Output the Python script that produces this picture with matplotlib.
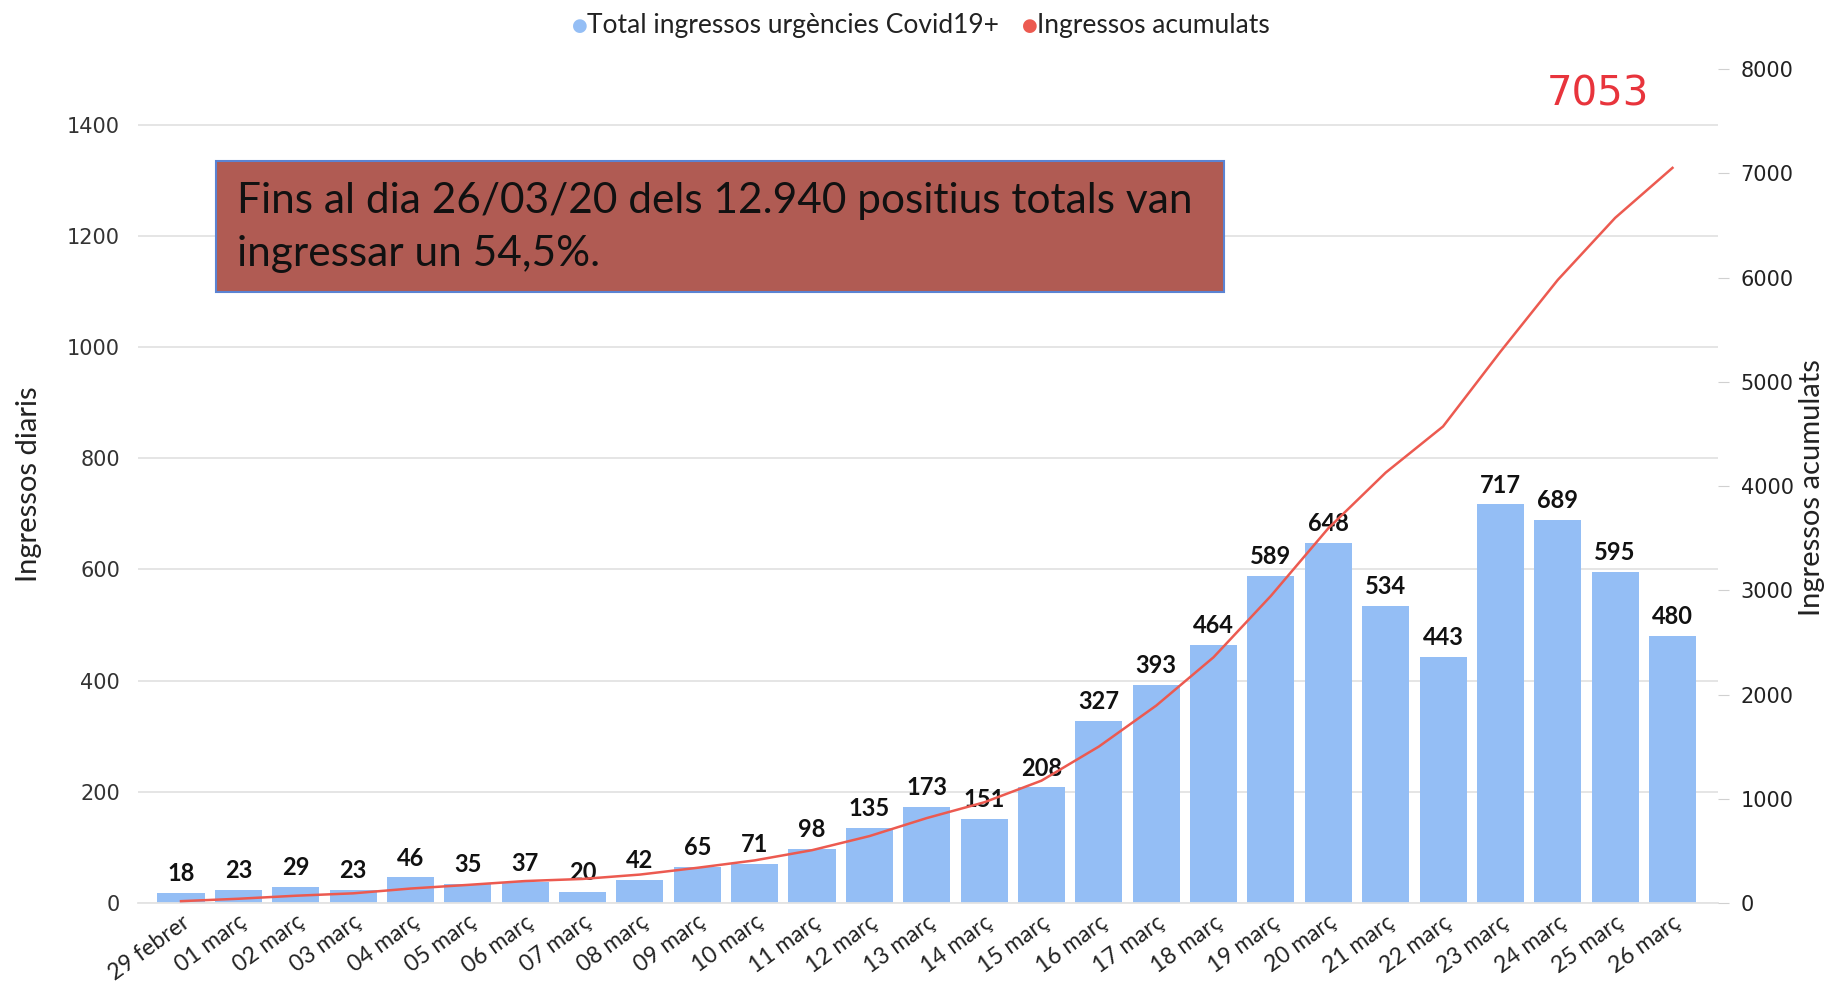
import matplotlib
matplotlib.use('Agg')
import matplotlib.pyplot as plt
from matplotlib.patches import Rectangle

# daily admissions and the running total
dies = ['29 febrer', '01 març', '02 març', '03 març', '04 març', '05 març',
        '06 març', '07 març', '08 març', '09 març', '10 març', '11 març',
        '12 març', '13 març', '14 març', '15 març', '16 març', '17 març',
        '18 març', '19 març', '20 març', '21 març', '22 març', '23 març',
        '24 març', '25 març', '26 març']
ingressos = [18, 23, 29, 23, 46, 35, 37, 20, 42, 65, 71, 98, 135, 173, 151,
             208, 327, 393, 464, 589, 648, 534, 443, 717, 689, 595, 480]
acumulats = [18, 41, 70, 93, 139, 174, 211, 231, 273, 338, 409, 507, 642,
             815, 966, 1174, 1501, 1894, 2358, 2947, 3595, 4129, 4572, 5289,
             5978, 6573, 7053]
ticks_esq = [0, 200, 400, 600, 800, 1000, 1200, 1400]
ticks_dre = [0, 1000, 2000, 3000, 4000, 5000, 6000, 7000, 8000]

plt.rcParams['font.family'] = ['Lato', 'DejaVu Sans']

blau = '#94BEF5'
vermell = '#EC5A50'

fig = plt.figure(figsize=(18.3, 9.88), dpi=100)
ax = fig.add_axes([0.0754, 0.086, 0.8636, 0.844])
ax2 = ax.twinx()

x = list(range(len(dies)))
ax.bar(x, ingressos, width=0.82, color=blau, zorder=2)
for xi, v in zip(x, ingressos):
    ax.text(xi, v + 14, str(v), ha='center', va='bottom', fontsize=17,
            fontweight='bold', color='#111111', zorder=5)

ax2.plot(x, acumulats, color=vermell, lw=1.8, zorder=3)

ax.set_xlim(-0.75, 26.8)
ax.set_ylim(0, 1500)
ax2.set_ylim(0, 8000)
ax.set_yticks(ticks_esq)
ax2.set_yticks(ticks_dre)
ax.yaxis.grid(True, color='#E3E3E3', lw=1.3, zorder=0)
ax.set_axisbelow(True)

for a in (ax, ax2):
    for s in a.spines.values():
        s.set_visible(False)
ax.spines['bottom'].set_visible(True)
ax.spines['bottom'].set_color('#E3E3E3')
ax.spines['bottom'].set_linewidth(1.3)

ax.set_xticks(x)
ax.set_xticklabels(dies, rotation=36, ha='right', va='top',
                   rotation_mode='anchor', fontsize=16.5, color='#222222')
ax.tick_params(axis='x', length=0, pad=6)
ax.tick_params(axis='y', length=0, pad=13, labelsize=15, labelcolor='#333333')
ax2.tick_params(axis='y', length=8, color='#D0D0D0', pad=8, labelsize=15,
                labelcolor='#222222')
for lab in ax.get_yticklabels() + ax2.get_yticklabels():
    lab.set_family(['DejaVu Sans'])

# axis titles
fig.text(0.0158, 0.51, 'Ingressos diaris', fontsize=21, color='#222222',
         rotation=90, ha='center', va='center')
fig.text(0.990, 0.507, 'Ingressos acumulats', fontsize=21, color='#222222',
         rotation=90, ha='center', va='center')

# red total above the curve end
ax2.text(x[-1] - 1.3, acumulats[-1] + 700, str(acumulats[-1]), ha='center',
         va='center', fontsize=29, color='#E8343C',
         family=['DejaVu Sans'])

# the annotation box
fig.patches.append(Rectangle((0.118, 0.704), 0.551, 0.133,
                             transform=fig.transFigure, fc='#B05B53',
                             ec='#5B83D2', lw=1.5, zorder=1))
fig.text(0.1295, 0.797, 'Fins al dia 26/03/20 dels 12.940 positius totals van',
         fontsize=30.5, color='#111111', ha='left', va='center', zorder=2)
fig.text(0.1295, 0.743, 'ingressar un 54,5%.',
         fontsize=30.5, color='#111111', ha='left', va='center', zorder=2)

# legend on top
fig.text(0.3126, 0.974, '\u25CF', color=blau, fontsize=13, ha='left',
         va='center', family=['DejaVu Sans'])
fig.text(0.3205, 0.974, 'Total ingressos urgències Covid19+', color='#222222',
         fontsize=19, ha='left', va='center')
fig.text(0.5585, 0.974, '\u25CF', color=vermell, fontsize=13, ha='left',
         va='center', family=['DejaVu Sans'])
fig.text(0.5665, 0.974, 'Ingressos acumulats', color='#222222', fontsize=19,
         ha='left', va='center')

fig.savefig('out.png', dpi=100)
